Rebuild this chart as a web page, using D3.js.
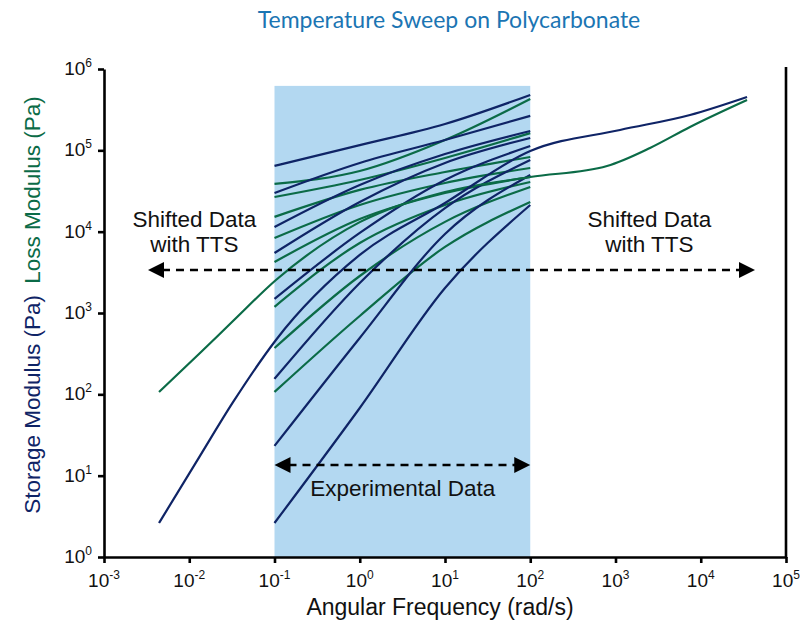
<!DOCTYPE html>
<html><head><meta charset="utf-8">
<script src="https://cdn.jsdelivr.net/npm/d3@7/dist/d3.min.js"></script>
<style>body{margin:0;background:#fff}</style>
</head><body>
<svg id="chart" width="803" height="628"></svg>
<script>
// ---- data ----
const title = "Temperature Sweep on Polycarbonate";
const xExponents = [-3, -2, -1, 0, 1, 2, 3, 4, 5];
const yExponents = [0, 1, 2, 3, 4, 5, 6];
const experimentalRange = [0.1, 100];
const shadeTop = 6.2e5;

// frequency points (rad/s) of each measured sweep
const sweepOmega = [0.1, 1, 10, 100];
// storage modulus G' (Pa), one array per temperature
const storageSweeps = [
  [6.43e4, 1.16e5, 2.11e5, 4.80e5],
  [2.99e4, 7.0e4, 1.34e5, 2.65e5],
  [1.14e4, 3.75e4, 9.0e4, 1.73e5],
  [5470, 2.32e4, 7.0e4, 1.42e5],
  [1490, 9640, 4.32e4, 1.13e5],
  [155, 2340, 1.95e4, 7.6e4],
  [23.2, 493, 9370, 4.98e4],
  [2.62, 67.9, 2030, 2.13e4]
];
// loss modulus G'' (Pa), one array per temperature
const lossSweeps = [
  [3.86e4, 5.57e4, 1.34e5, 4.28e5],
  [2.67e4, 4.32e4, 8.06e4, 1.63e5],
  [1.52e4, 3.26e4, 5.42e4, 8.29e4],
  [8360, 2.13e4, 3.97e4, 6.07e4],
  [4240, 1.43e4, 2.99e4, 4.70e4],
  [1190, 7260, 2.13e4, 4.08e4],
  [371, 2850, 1.32e4, 3.55e4],
  [107, 919, 6490, 2.32e4]
];
// shifted master curves (TTS)
const masterOmega = [0.00442, 0.01337, 0.0326, 0.104, 1, 10, 100, 1130, 7480, 3.49e4];
const masterStorage = [2.62, 17.5, 80, 466, 5170, 2.25e4, 9.8e4, 1.78e5, 2.72e5, 4.53e5];
const masterLossOmega = [0.00442, 0.01337, 0.0326, 0.104, 1, 10, 100, 795, 2540, 7480, 3.49e4];
const masterLoss = [107, 322, 797, 2545, 1.31e4, 3.07e4, 4.7e4, 6.42e4, 1.07e5, 1.94e5, 4.16e5];

// annotations (data coordinates)
const shiftedArrow = {from: 0.00328, to: 4.33e4, level: 3380};
const expArrow = {from: 0.1, to: 100, level: 13.5};
const shiftedLabels = [
  {omega: 0.0115, lines: ["Shifted Data", "with TTS"]},
  {omega: 2500, lines: ["Shifted Data", "with TTS"]}
];
const shiftedLabelLevel = 1.15e4;
const expLabel = {omega: 3.2, level: 5.6, text: "Experimental Data"};

// ---- drawing ----
const NAVY = "#0f2466", GREEN = "#0b6b47", SHADE = "#b3d8f1";
const svg = d3.select("#chart");
const x = d3.scaleLog().domain([1e-3, 1e5]).range([104, 786]);
const y = d3.scaleLog().domain([1, 1e6]).range([557, 69]);
const FONT = "'Liberation Sans', Arial, sans-serif";

svg.append("text").attr("x", 449).attr("y", 28).attr("text-anchor", "middle")
  .attr("font-family", "Lato, 'Open Sans', sans-serif").attr("font-size", 23)
  .attr("fill", "#1b75b3").text(title);

svg.append("rect")
  .attr("x", x(experimentalRange[0])).attr("y", y(shadeTop))
  .attr("width", x(experimentalRange[1]) - x(experimentalRange[0]))
  .attr("height", y(1) - y(shadeTop)).attr("fill", SHADE);

const line = d3.line().x(d => x(d[0])).y(d => y(d[1])).curve(d3.curveMonotoneX);
const g = svg.append("g").attr("fill", "none").attr("stroke-width", 2.2);
lossSweeps.forEach(s => g.append("path").attr("stroke", GREEN)
  .attr("d", line(sweepOmega.map((o, i) => [o, s[i]]))));
storageSweeps.forEach(s => g.append("path").attr("stroke", NAVY)
  .attr("d", line(sweepOmega.map((o, i) => [o, s[i]]))));
g.append("path").attr("stroke", GREEN)
  .attr("d", line(masterLossOmega.map((o, i) => [o, masterLoss[i]])));
g.append("path").attr("stroke", NAVY)
  .attr("d", line(masterOmega.map((o, i) => [o, masterStorage[i]])));

// axes
const yAxis = svg.append("g").attr("transform", `translate(${x(1e-3)},0)`)
  .call(d3.axisLeft(y).tickValues(yExponents.map(e => Math.pow(10, e)))
    .tickSize(6).tickSizeOuter(0).tickFormat(""));
const xAxis = svg.append("g").attr("transform", `translate(0,${y(1)})`)
  .call(d3.axisBottom(x).tickValues(xExponents.map(e => Math.pow(10, e)))
    .tickSize(6).tickSizeOuter(0).tickFormat(""));
[yAxis, xAxis].forEach(a => {
  a.selectAll("path,line").attr("stroke", "#000").attr("stroke-width", 2.6);
});
svg.append("line").attr("x1", x(1e5)).attr("x2", x(1e5))
  .attr("y1", y(1) + 1).attr("y2", 67).attr("stroke", "#000").attr("stroke-width", 2.6);

// tick labels
yExponents.forEach(e => {
  const t = svg.append("text").attr("x", 92).attr("y", y(Math.pow(10, e)) + 6)
    .attr("text-anchor", "end").attr("font-family", FONT).attr("font-size", 19).attr("fill", "#111");
  t.append("tspan").text("10");
  t.append("tspan").attr("font-size", 12).attr("dy", -8).text(e);
});
xExponents.forEach(e => {
  const t = svg.append("text").attr("x", x(Math.pow(10, e))).attr("y", 587)
    .attr("text-anchor", "middle").attr("font-family", FONT).attr("font-size", 19).attr("fill", "#111");
  t.append("tspan").text("10");
  t.append("tspan").attr("font-size", 12).attr("dy", -8).text(e);
});

svg.append("text").attr("x", 440).attr("y", 615).attr("text-anchor", "middle")
  .attr("font-family", FONT).attr("font-size", 23).attr("fill", "#111")
  .text("Angular Frequency (rad/s)");

const yl = svg.append("text").attr("transform", "translate(40,305) rotate(-90)")
  .attr("text-anchor", "middle").attr("font-family", FONT).attr("font-size", 22.5);
yl.append("tspan").attr("fill", NAVY).text("Storage Modulus (Pa)");
yl.append("tspan").attr("fill", GREEN).text("\u2002Loss Modulus (Pa)");

// arrows
function arrow(a) {
  const x1 = x(a.from), x2 = x(a.to), yy = y(a.level), h = 14, w = 8;
  svg.append("line").attr("x1", x1 + h).attr("x2", x2 - h).attr("y1", yy).attr("y2", yy)
    .attr("stroke", "#000").attr("stroke-width", 2.6).attr("stroke-dasharray", "8,6");
  svg.append("path").attr("d", `M${x1},${yy}L${x1 + h + 2},${yy - w}L${x1 + h + 2},${yy + w}Z`).attr("fill", "#000");
  svg.append("path").attr("d", `M${x2},${yy}L${x2 - h - 2},${yy - w}L${x2 - h - 2},${yy + w}Z`).attr("fill", "#000");
}
arrow(shiftedArrow);
arrow(expArrow);

shiftedLabels.forEach(l => {
  l.lines.forEach((s, i) => svg.append("text").attr("x", x(l.omega))
    .attr("y", y(shiftedLabelLevel) + i * 25).attr("text-anchor", "middle")
    .attr("font-family", FONT).attr("font-size", 22.5).attr("fill", "#111").text(s));
});
svg.append("text").attr("x", x(expLabel.omega)).attr("y", y(expLabel.level))
  .attr("text-anchor", "middle").attr("font-family", FONT).attr("font-size", 22.5)
  .attr("fill", "#111").text(expLabel.text);
</script>
</body></html>
